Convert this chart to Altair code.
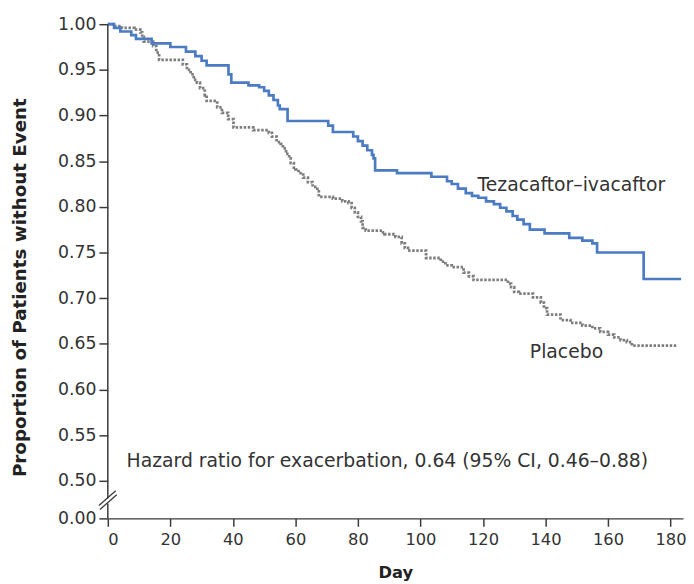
import altair as alt
import pandas as pd

# Tezacaftor-ivacaftor Kaplan-Meier steps (day, proportion without event)
tez_days = [0, 2, 4, 7.5, 9, 14, 20, 25, 28, 30, 31.6, 38.6, 39.5, 45, 48.4,
            50, 51.5, 53, 54.4, 55, 57.5, 70.5, 72, 78.5, 80, 81.5, 83, 84.5, 85,
            85.5, 92.5, 103.5, 108.5, 110, 112, 114.5, 116.5, 118.5, 121, 123.5,
            125.5, 127.5, 129.5, 131, 133, 135, 139.7, 147.6, 151.8, 155, 156.5,
            171.4, 183.4]
tez_surv = [1.0, 0.996, 0.992, 0.988, 0.984, 0.979, 0.975, 0.970, 0.965, 0.960,
            0.955, 0.945, 0.936, 0.933, 0.931, 0.927, 0.922, 0.917, 0.911, 0.907,
            0.894, 0.889, 0.882, 0.877, 0.872, 0.867, 0.862, 0.857, 0.853, 0.840,
            0.837, 0.833, 0.828, 0.825, 0.820, 0.815, 0.812, 0.810, 0.806, 0.803,
            0.799, 0.795, 0.790, 0.786, 0.781, 0.775, 0.771, 0.766, 0.763, 0.760,
            0.750, 0.721, 0.721]

# Placebo Kaplan-Meier steps
pla_days = [0, 1.6, 4.5, 8.5, 10.4, 11, 11.5, 14.5, 15.5, 16.4, 24, 25.3, 26.5,
            27.5, 28.5, 29.5, 31, 31.6, 35, 36.5, 38.5, 40.2, 46.5, 51.5, 52.5, 54,
            55.3, 56, 57, 58, 58.5, 59.5, 60, 61, 62.5, 64, 65.5, 67, 67.5, 72, 75,
            77, 78, 79, 80, 81, 81.5, 82.5, 88, 88.5, 92, 94, 95, 96, 101.8, 106.5,
            108, 110, 113.8, 115.5, 117, 128, 129, 130, 131.5, 136, 138.5, 139.5,
            140.5, 144.8, 148, 151.8, 155, 157.5, 160, 162, 164, 166, 167.6, 181.8]
pla_surv = [1.0, 0.998, 0.996, 0.994, 0.991, 0.986, 0.981, 0.976, 0.969, 0.961,
            0.956, 0.950, 0.945, 0.939, 0.936, 0.930, 0.922, 0.916, 0.909, 0.903,
            0.896, 0.887, 0.884, 0.881, 0.877, 0.871, 0.869, 0.864, 0.858, 0.853,
            0.848, 0.843, 0.841, 0.837, 0.832, 0.827, 0.822, 0.817, 0.811, 0.809,
            0.806, 0.804, 0.799, 0.794, 0.789, 0.784, 0.777, 0.774, 0.772, 0.770,
            0.767, 0.760, 0.755, 0.752, 0.744, 0.740, 0.736, 0.734, 0.728, 0.724,
            0.720, 0.716, 0.712, 0.707, 0.705, 0.701, 0.695, 0.689, 0.682, 0.676,
            0.673, 0.670, 0.667, 0.663, 0.660, 0.657, 0.654, 0.652, 0.648, 0.648]

x_ticks = [0, 20, 40, 60, 80, 100, 120, 140, 160, 180]
y_ticks = [0.0, 0.50, 0.55, 0.60, 0.65, 0.70, 0.75, 0.80, 0.85, 0.90, 0.95, 1.00]

label_tez = "Tezacaftor\u2013ivacaftor"
label_pla = "Placebo"
hazard_text = "Hazard ratio for exacerbation, 0.64 (95% CI, 0.46\u20130.88)"

assert len(tez_days) == len(tez_surv)
assert len(pla_days) == len(pla_surv)

tez_df = pd.DataFrame({"day": tez_days, "surv": tez_surv})
pla_df = pd.DataFrame({"day": pla_days, "surv": pla_surv})
one = pd.DataFrame({"k": [0]})

AX = "#3a3a3a"
TXT = "#333333"
FONT = "DejaVu Sans"

xscale = alt.Scale(domain=[0, 184], nice=False, zero=False)
yscale = alt.Scale(domain=[0, 0.5, 1.0], range=[500, 462, 0], nice=False, zero=False)

xaxis = alt.Axis(values=x_ticks, format="d", grid=False, domainColor=AX, domainWidth=1.5,
                 tickColor=AX, tickWidth=1.5, tickSize=8, labelFont=FONT, labelFontSize=16.5,
                 labelColor=TXT, labelPadding=5, title="Day", titleFont=FONT,
                 titleFontWeight="bold", titleFontSize=16.5, titleColor="#222222",
                 titlePadding=17)
yaxis = alt.Axis(values=y_ticks, format=".2f", grid=False, domain=False, tickColor=AX,
                 tickWidth=1.5, tickSize=9, labelFont=FONT, labelFontSize=17.5,
                 labelColor=TXT, labelPadding=3,
                 title="Proportion of Patients without Event", titleFont=FONT,
                 titleFontWeight="bold", titleFontSize=18.5, titleColor="#222222",
                 titleX=-89, titleY=266, titleAngle=-90, titleAlign="center",
                 titleBaseline="middle")

pla_line = alt.Chart(pla_df).mark_line(
    interpolate="step-after", color="#7d7d7d", strokeWidth=2.8, strokeDash=[2.5, 1.6]
).encode(
    x=alt.X("day:Q", scale=xscale, axis=xaxis),
    y=alt.Y("surv:Q", scale=yscale, axis=yaxis),
)

tez_line = alt.Chart(tez_df).mark_line(
    interpolate="step-after", color="#4a7bc3", strokeWidth=2.7
).encode(
    x=alt.X("day:Q", scale=xscale),
    y=alt.Y("surv:Q", scale=yscale),
)

axis_top = alt.Chart(one).mark_rule(color=AX, strokeWidth=1.5).encode(
    x=alt.value(0), y=alt.value(0), y2=alt.value(480))
axis_bot = alt.Chart(one).mark_rule(color=AX, strokeWidth=1.5).encode(
    x=alt.value(0), y=alt.value(485), y2=alt.value(500))
brk1 = alt.Chart(one).mark_rule(color=AX, strokeWidth=1.3).encode(
    x=alt.value(-9), x2=alt.value(8), y=alt.value(487), y2=alt.value(472))
brk2 = alt.Chart(one).mark_rule(color=AX, strokeWidth=1.3).encode(
    x=alt.value(-8), x2=alt.value(9), y=alt.value(491), y2=alt.value(476))

txt_tez = alt.Chart(one).mark_text(
    text=label_tez, font=FONT, fontSize=19, color=TXT, align="left", baseline="middle"
).encode(x=alt.value(374), y=alt.value(163))
txt_pla = alt.Chart(one).mark_text(
    text=label_pla, font=FONT, fontSize=19, color=TXT, align="left", baseline="middle"
).encode(x=alt.value(427), y=alt.value(332))
txt_hz = alt.Chart(one).mark_text(
    text=hazard_text, font=FONT, fontSize=19, color=TXT, align="left", baseline="middle"
).encode(x=alt.value(19), y=alt.value(442))

chart = alt.layer(
    pla_line, tez_line, axis_top, axis_bot, brk1, brk2, txt_tez, txt_pla, txt_hz
).properties(
    width=582, height=500,
    autosize=alt.AutoSizeParams(type="none"),
    padding={"left": 101, "top": 13, "right": 3, "bottom": 63},
    background="white",
).configure_view(stroke=None)

chart.save("out.html", embed_options={"renderer": "svg", "actions": False})
